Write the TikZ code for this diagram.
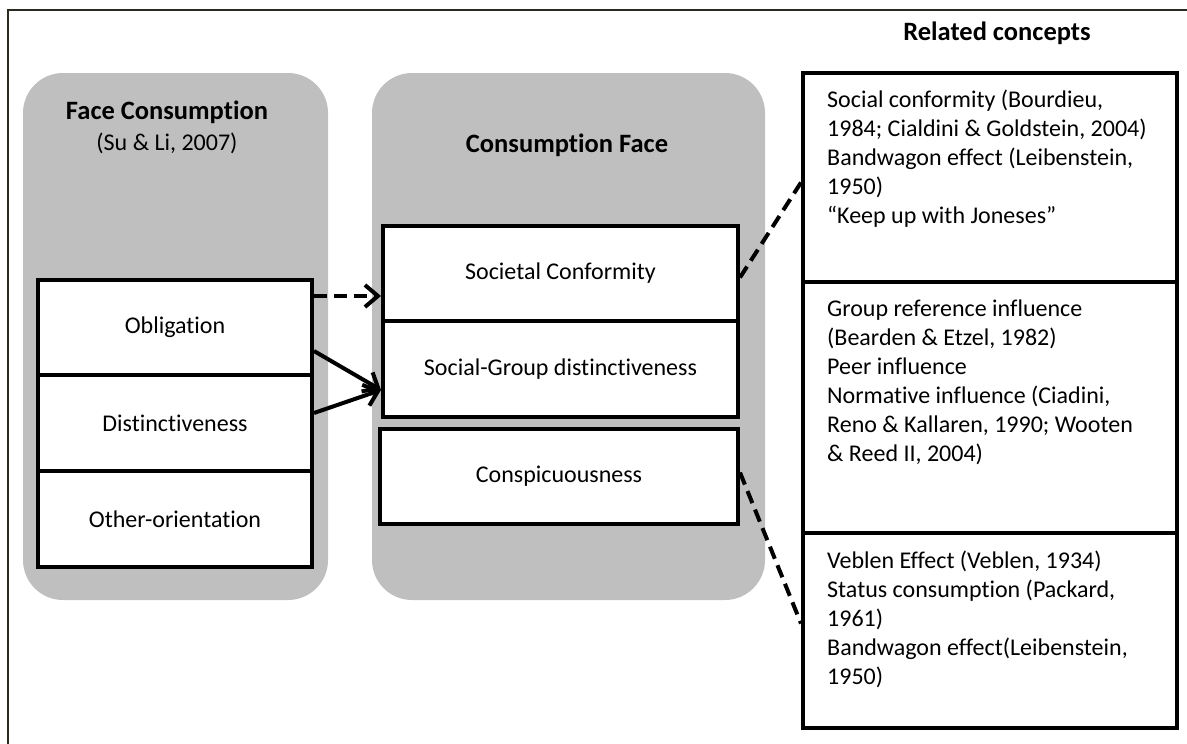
\documentclass[tikz,border=0pt]{standalone}
\usepackage{fontspec}
\setmainfont{Carlito}[Ligatures=NoCommon]
\usetikzlibrary{arrows.meta,calc}
\definecolor{panelgray}{RGB}{191,191,191}
\definecolor{framecol}{RGB}{42,42,32}
\begin{document}
\begin{tikzpicture}[x=1pt,y=-1pt,
  bodyfont/.style={font=\fontsize{24}{29}\selectfont},
  panel/.style={fill=panelgray, rounded corners=40pt},
  itembox/.style={draw=black, line width=4pt, fill=white, inner sep=0pt, bodyfont},
  head/.style={font=\fontsize{26.5}{31}\selectfont\bfseries, inner sep=0pt},
  listtext/.style={bodyfont, anchor=north west, align=left, inner sep=0pt},
  dashedlink/.style={line width=4pt, dash pattern=on 13pt off 7pt},
  tip/.style={-{Straight Barb[length=13pt,width=22pt]}},
  link/.style={line width=4pt}
]
\useasboundingbox (0,0) rectangle (1187,744);

% outer frame
\draw[framecol, line width=2pt] (8,744) -- (8,10) -- (1187,10);

% grey panels
\fill[panel] (23,73) rectangle (328,600);
\fill[panel] (372,73) rectangle (765,600);

% headings
\node[head] (fchead) at (167,112) {Face Consumption};
\node[bodyfont, inner sep=0pt] (fcref) at (167,143) {(Su \& Li, 2007)};
\node[head] (cfhead) at (567,145) {Consumption Face};
\node[head] (rchead) at (997,33) {Related concepts};

% face consumption dimensions
\node[itembox, minimum width=274pt, minimum height=95pt] (obl) at (175,327.5) {Obligation};
\node[itembox, minimum width=274pt, minimum height=96pt] (dis) at (175,423) {Distinctiveness};
\node[itembox, minimum width=274pt, minimum height=96pt] (oth) at (175,519) {Other-orientation};

% consumption face dimensions
\node[itembox, minimum width=355pt, minimum height=95pt] (sc) at (560.5,273.5) {Societal Conformity};
\node[itembox, minimum width=355pt, minimum height=96pt] (sg) at (560.5,369) {Social-Group distinctiveness};
\node[itembox, minimum width=358pt, minimum height=95pt] (cs) at (559,476.5) {Conspicuousness};

% related concepts
\node[itembox, minimum width=374pt, minimum height=209pt] (rc1) at (990,177.5) {};
\node[itembox, minimum width=374pt, minimum height=251pt] (rc2) at (990,407.5) {};
\node[itembox, minimum width=374pt, minimum height=195pt] (rc3) at (990,630.5) {};

\node[listtext] (rc1t) at (827,87) {\strut Social conformity (Bourdieu,\\1984; Cialdini \& Goldstein, 2004)\\Bandwagon effect (Leibenstein,\\1950)\\“Keep up with Joneses”};
\node[listtext] (rc2t) at (827,296) {\strut Group reference influence\\(Bearden \& Etzel, 1982)\\Peer influence\\Normative influence (Ciadini,\\Reno \& Kallaren, 1990; Wooten\\\& Reed II, 2004)};
\node[listtext] (rc3t) at (827,548) {\strut Veblen Effect (Veblen, 1934)\\Status consumption (Packard,\\1961)\\Bandwagon effect(Leibenstein,\\1950)};

% links between the two constructs
\coordinate (oblout) at ($(obl.north east)+(0,18)$);
\draw[dashedlink, tip] (oblout) -- (oblout -| sc.west);
\coordinate (sgin) at ($(sg.west)+(0,21)$);
\draw[link, tip] ($(obl.south east)+(0,-26)$) -- (sgin);
\draw[link, tip] ($(dis.north east)+(0,40)$) -- (sgin);

% links to related concepts
\draw[dashedlink] ($(sc.east)+(0,4)$) -- ($(rc1.west)+(0,5)$);
\draw[dashedlink] ($(sg.east)+(0,3)$) -- ($(sg.east)+(0,3)$ -| rc2.west);
\draw[dashedlink] ($(cs.east)+(0,-4)$) -- ($(rc3.west)+(0,-7)$);
\end{tikzpicture}
\end{document}
